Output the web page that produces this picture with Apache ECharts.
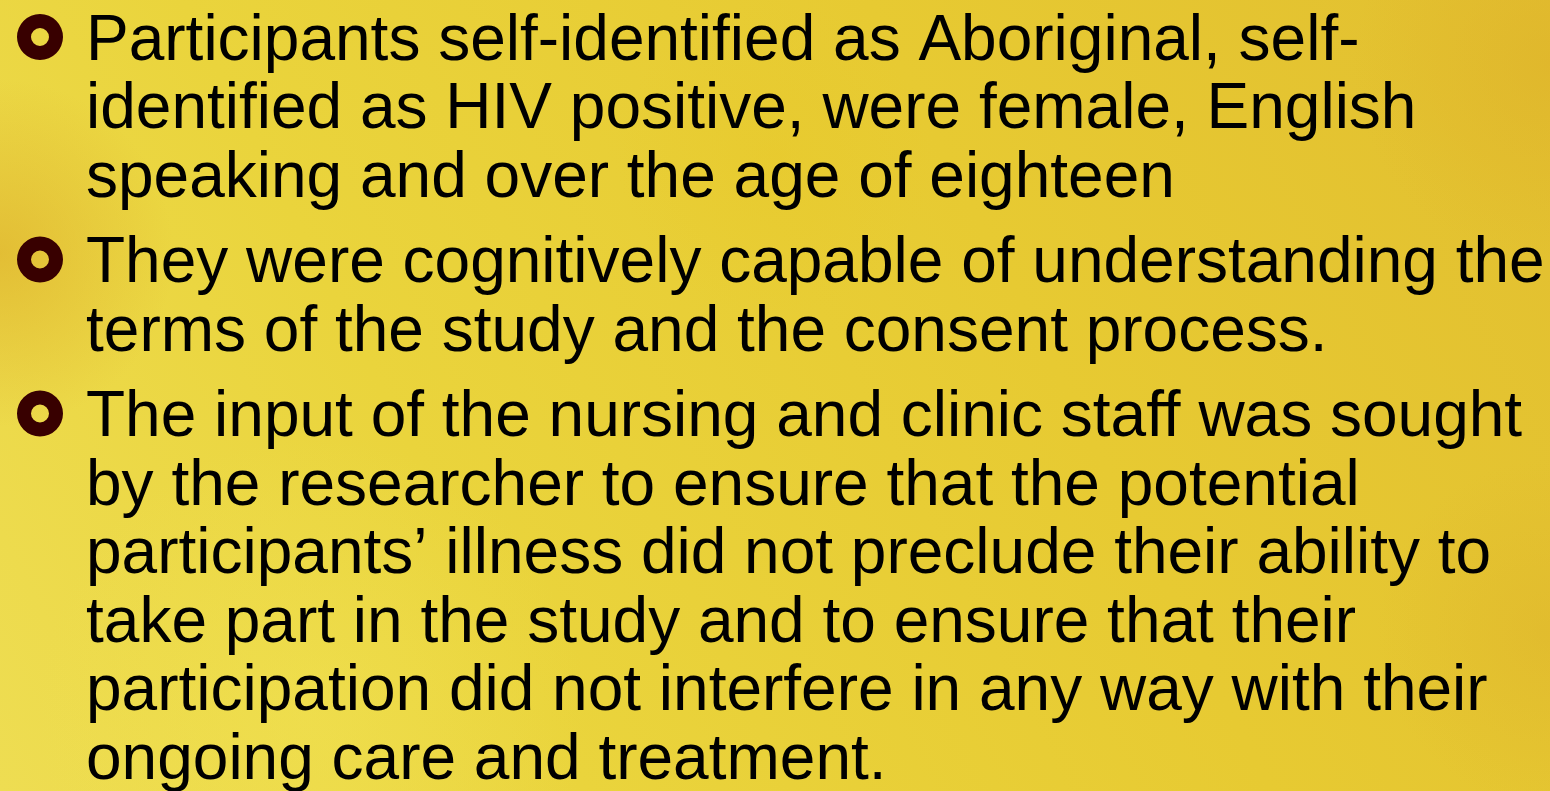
<!DOCTYPE html>
<html>
<head>
<meta charset="utf-8">
<script src="https://cdn.jsdelivr.net/npm/echarts@6/dist/echarts.min.js"></script>
<style>
html,body{margin:0;padding:0;width:1550px;height:791px;overflow:hidden;}
#main{width:1550px;height:791px;}
</style>
</head>
<body>
<div id="main"></div>
<script>
// Slide content: each bullet is a list of wrapped lines
var bullet1 = [
  "Participants self-identified as Aboriginal, self-",
  "identified as HIV positive, were female, English",
  "speaking and over the age of eighteen"
];
var bullet2 = [
  "They were cognitively capable of understanding the",
  "terms of the study and the consent process."
];
var bullet3 = [
  "The input of the nursing and clinic staff was sought",
  "by the researcher to ensure that the potential",
  "participants\u2019 illness did not preclude their ability to",
  "take part in the study and to ensure that their",
  "participation did not interfere in any way with their",
  "ongoing care and treatment."
];
var bullets = [bullet1, bullet2, bullet3];

var chart = echarts.init(document.getElementById('main'), null, {renderer: 'canvas'});

var FONT = '"Liberation Sans", Arial, sans-serif';
var fontSize = 64;
var descent = 13;
var lineH = 68.5;
var paraGap = 17;
var textX = 86;
var firstBaseline = 61;

function radial(cx, cy, r, rgb, a) {
  return {
    type: 'rect', z: 1,
    shape: {x: 0, y: 0, width: 1550, height: 791},
    style: {
      fill: new echarts.graphic.RadialGradient(cx, cy, r, [
        {offset: 0, color: 'rgba(' + rgb + ',' + a + ')'},
        {offset: 1, color: 'rgba(' + rgb + ',0)'}
      ])
    }
  };
}

var elements = [];
// background
elements.push({
  type: 'rect', z: 0,
  shape: {x: 0, y: 0, width: 1550, height: 791},
  style: {
    fill: new echarts.graphic.LinearGradient(1, 0, 0, 1, [
      {offset: 0, color: '#e2bf30'},
      {offset: 0.35, color: '#e7ca32'},
      {offset: 0.7, color: '#ead43c'},
      {offset: 1, color: '#eedd52'}
    ])
  }
});
elements.push(radial(0.0, 0.32, 0.22, '220,172,40', 0.6));
elements.push(radial(1.0, 0.08, 0.25, '222,176,40', 0.5));
elements.push(radial(1.0, 0.8, 0.22, '222,178,42', 0.45));
elements.push(radial(0.5, 0.2, 0.2, '232,200,40', 0.4));
elements.push(radial(0.2, 0.9, 0.35, '242,228,85', 0.45));

var baseline = firstBaseline;
bullets.forEach(function (lines, bi) {
  if (bi > 0) baseline += paraGap;
  elements.push({
    type: 'ring', z: 5,
    shape: {cx: 40, cy: baseline - 24, r: 23, r0: 9},
    style: {fill: '#380000'}
  });
  lines.forEach(function (ln) {
    elements.push({
      type: 'text', z: 5,
      x: textX, y: baseline + descent,
      style: {
        text: ln,
        font: fontSize + 'px ' + FONT,
        fill: '#000',
        align: 'left',
        verticalAlign: 'bottom'
      }
    });
    baseline += lineH;
  });
});

chart.setOption({
  animation: false,
  graphic: {elements: elements}
});
</script>
</body>
</html>
